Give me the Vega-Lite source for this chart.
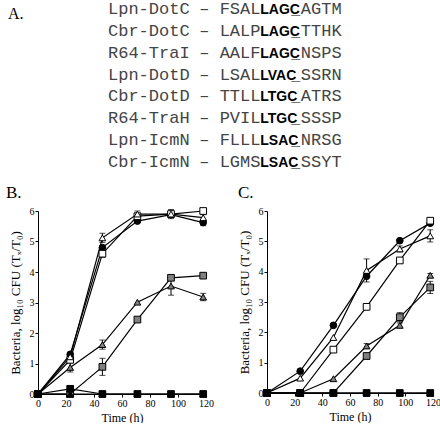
{
  "$schema": "https://vega.github.io/schema/vega-lite/v6.json",
  "padding": {"left": 6, "top": 0, "right": 0, "bottom": 0},
  "spacing": 11,
  "config": {
    "view": {"stroke": null},
    "font": "Liberation Serif",
    "axis": {
      "labelFont": "Liberation Serif", "titleFont": "Liberation Serif",
      "labelFontSize": 10, "titleFontSize": 12, "titleFontWeight": "normal",
      "labelColor": "black", "titleColor": "black", "domainColor": "black", "tickColor": "black",
      "tickSize": 3, "grid": false, "labelPadding": 1, "domainWidth": 1, "tickWidth": 1
    },
    "title": {"font": "Liberation Serif", "fontSize": 17, "fontWeight": "normal", "anchor": "start", "color": "black", "offset": 0}
  },
  "datasets": {
    "align": [
      {"row": 1, "protein": "Lpn-DotC", "pre": "FSAL", "motif": "LAGC", "post": "AGTM"},
      {"row": 2, "protein": "Cbr-DotC", "pre": "LALP", "motif": "LAGC", "post": "TTHK"},
      {"row": 3, "protein": "R64-TraI", "pre": "AALF", "motif": "LAGC", "post": "NSPS"},
      {"row": 4, "protein": "Lpn-DotD", "pre": "LSAL", "motif": "LVAC", "post": "SSRN"},
      {"row": 5, "protein": "Cbr-DotD", "pre": "TTLL", "motif": "LTGC", "post": "ATRS"},
      {"row": 6, "protein": "R64-TraH", "pre": "PVIL", "motif": "LTGC", "post": "SSSP"},
      {"row": 7, "protein": "Lpn-IcmN", "pre": "FLLL", "motif": "LSAC", "post": "NRSG"},
      {"row": 8, "protein": "Cbr-IcmN", "pre": "LGMS", "motif": "LSAC", "post": "SSYT"}
    ],
    "growth": [
      {"panel": "B", "series": "s1", "t": 0, "v": 0, "e": 0},
      {"panel": "B", "series": "s1", "t": 23, "v": 1.3, "e": 0},
      {"panel": "B", "series": "s1", "t": 46, "v": 4.8, "e": 0},
      {"panel": "B", "series": "s1", "t": 71, "v": 5.67, "e": 0},
      {"panel": "B", "series": "s1", "t": 95, "v": 5.88, "e": 0},
      {"panel": "B", "series": "s1", "t": 118, "v": 5.62, "e": 0.1},
      {"panel": "B", "series": "s2", "t": 0, "v": 0, "e": 0},
      {"panel": "B", "series": "s2", "t": 23, "v": 1.12, "e": 0},
      {"panel": "B", "series": "s2", "t": 46, "v": 4.6, "e": 0.12},
      {"panel": "B", "series": "s2", "t": 71, "v": 5.83, "e": 0},
      {"panel": "B", "series": "s2", "t": 95, "v": 5.9, "e": 0},
      {"panel": "B", "series": "s2", "t": 118, "v": 6.0, "e": 0.08},
      {"panel": "B", "series": "s3", "t": 0, "v": 0, "e": 0},
      {"panel": "B", "series": "s3", "t": 23, "v": 1.22, "e": 0},
      {"panel": "B", "series": "s3", "t": 46, "v": 5.12, "e": 0.15},
      {"panel": "B", "series": "s3", "t": 71, "v": 5.9, "e": 0.1},
      {"panel": "B", "series": "s3", "t": 95, "v": 5.9, "e": 0.15},
      {"panel": "B", "series": "s3", "t": 118, "v": 5.78, "e": 0.1},
      {"panel": "B", "series": "s4", "t": 0, "v": 0, "e": 0},
      {"panel": "B", "series": "s4", "t": 23, "v": 0.87, "e": 0.15},
      {"panel": "B", "series": "s4", "t": 46, "v": 1.62, "e": 0.15},
      {"panel": "B", "series": "s4", "t": 71, "v": 3.01, "e": 0},
      {"panel": "B", "series": "s4", "t": 95, "v": 3.54, "e": 0.3},
      {"panel": "B", "series": "s4", "t": 118, "v": 3.18, "e": 0.12},
      {"panel": "B", "series": "s5", "t": 0, "v": 0, "e": 0},
      {"panel": "B", "series": "s5", "t": 23, "v": 0, "e": 0},
      {"panel": "B", "series": "s5", "t": 46, "v": 0.89, "e": 0.28},
      {"panel": "B", "series": "s5", "t": 71, "v": 2.44, "e": 0},
      {"panel": "B", "series": "s5", "t": 95, "v": 3.81, "e": 0},
      {"panel": "B", "series": "s5", "t": 118, "v": 3.88, "e": 0.08},
      {"panel": "B", "series": "s6", "t": 0, "v": 0, "e": 0},
      {"panel": "B", "series": "s6", "t": 23, "v": 0.17, "e": 0},
      {"panel": "B", "series": "s6", "t": 46, "v": 0, "e": 0},
      {"panel": "B", "series": "s6", "t": 71, "v": 0, "e": 0},
      {"panel": "B", "series": "s6", "t": 95, "v": 0, "e": 0},
      {"panel": "B", "series": "s6", "t": 118, "v": 0, "e": 0},
      {"panel": "B", "series": "s7", "t": 0, "v": 0, "e": 0},
      {"panel": "B", "series": "s7", "t": 23, "v": 0, "e": 0},
      {"panel": "B", "series": "s7", "t": 46, "v": 0, "e": 0},
      {"panel": "B", "series": "s7", "t": 71, "v": 0, "e": 0},
      {"panel": "B", "series": "s7", "t": 95, "v": 0, "e": 0},
      {"panel": "B", "series": "s7", "t": 118, "v": 0, "e": 0},
      {"panel": "C", "series": "s1", "t": 0, "v": 0, "e": 0},
      {"panel": "C", "series": "s1", "t": 24, "v": 0.72, "e": 0},
      {"panel": "C", "series": "s1", "t": 48, "v": 2.23, "e": 0},
      {"panel": "C", "series": "s1", "t": 72, "v": 3.85, "e": 0},
      {"panel": "C", "series": "s1", "t": 96, "v": 5.02, "e": 0},
      {"panel": "C", "series": "s1", "t": 118, "v": 5.6, "e": 0},
      {"panel": "C", "series": "s2", "t": 0, "v": 0, "e": 0},
      {"panel": "C", "series": "s2", "t": 24, "v": 0, "e": 0},
      {"panel": "C", "series": "s2", "t": 48, "v": 1.43, "e": 0.08},
      {"panel": "C", "series": "s2", "t": 72, "v": 2.84, "e": 0},
      {"panel": "C", "series": "s2", "t": 96, "v": 4.37, "e": 0},
      {"panel": "C", "series": "s2", "t": 118, "v": 5.68, "e": 0.08},
      {"panel": "C", "series": "s3", "t": 0, "v": 0, "e": 0},
      {"panel": "C", "series": "s3", "t": 24, "v": 0.49, "e": 0},
      {"panel": "C", "series": "s3", "t": 48, "v": 1.83, "e": 0},
      {"panel": "C", "series": "s3", "t": 72, "v": 4.04, "e": 0.38},
      {"panel": "C", "series": "s3", "t": 96, "v": 4.75, "e": 0.1},
      {"panel": "C", "series": "s3", "t": 118, "v": 5.18, "e": 0.2},
      {"panel": "C", "series": "s4", "t": 0, "v": 0, "e": 0},
      {"panel": "C", "series": "s4", "t": 24, "v": 0, "e": 0},
      {"panel": "C", "series": "s4", "t": 48, "v": 0.47, "e": 0},
      {"panel": "C", "series": "s4", "t": 72, "v": 1.55, "e": 0.08},
      {"panel": "C", "series": "s4", "t": 96, "v": 2.23, "e": 0.08},
      {"panel": "C", "series": "s4", "t": 118, "v": 3.88, "e": 0.06},
      {"panel": "C", "series": "s5", "t": 0, "v": 0, "e": 0},
      {"panel": "C", "series": "s5", "t": 24, "v": 0, "e": 0},
      {"panel": "C", "series": "s5", "t": 48, "v": 0, "e": 0},
      {"panel": "C", "series": "s5", "t": 72, "v": 1.22, "e": 0},
      {"panel": "C", "series": "s5", "t": 96, "v": 2.5, "e": 0.15},
      {"panel": "C", "series": "s5", "t": 118, "v": 3.48, "e": 0.2},
      {"panel": "C", "series": "s6", "t": 0, "v": 0, "e": 0},
      {"panel": "C", "series": "s6", "t": 24, "v": 0, "e": 0},
      {"panel": "C", "series": "s6", "t": 48, "v": 0, "e": 0},
      {"panel": "C", "series": "s6", "t": 72, "v": 0, "e": 0},
      {"panel": "C", "series": "s6", "t": 96, "v": 0, "e": 0},
      {"panel": "C", "series": "s6", "t": 118, "v": 0, "e": 0},
      {"panel": "C", "series": "s7", "t": 0, "v": 0, "e": 0},
      {"panel": "C", "series": "s7", "t": 24, "v": 0, "e": 0},
      {"panel": "C", "series": "s7", "t": 48, "v": 0, "e": 0},
      {"panel": "C", "series": "s7", "t": 72, "v": 0, "e": 0},
      {"panel": "C", "series": "s7", "t": 96, "v": 0, "e": 0},
      {"panel": "C", "series": "s7", "t": 118, "v": 0, "e": 0}
    ]
  },
  "vconcat": [
    {
      "width": 403,
      "height": 170,
      "layer": [
        {
          "data": {"name": "align"},
          "mark": {"type": "text", "font": "Liberation Mono", "fontSize": 17, "align": "left", "baseline": "alphabetic", "color": "#444"},
          "encoding": {
            "x": {"datum": 0, "type": "quantitative", "scale": {"domain": [-6.897, 32.81], "nice": false, "zero": false}, "axis": null},
            "y": {"field": "row", "type": "quantitative", "scale": {"domain": [0.451, 8.228], "reverse": true, "nice": false, "zero": false}, "axis": null},
            "text": {"field": "protein"}
          }
        },
        {
          "data": {"name": "align"},
          "mark": {"type": "text", "font": "Liberation Mono", "fontSize": 17, "align": "left", "baseline": "alphabetic", "color": "#444"},
          "encoding": {
            "x": {"datum": 9, "type": "quantitative"},
            "y": {"field": "row", "type": "quantitative"},
            "text": {"value": "–"}
          }
        },
        {
          "data": {"name": "align"},
          "mark": {"type": "text", "font": "Liberation Mono", "fontSize": 17, "align": "left", "baseline": "alphabetic", "color": "#444"},
          "encoding": {
            "x": {"datum": 11, "type": "quantitative"},
            "y": {"field": "row", "type": "quantitative"},
            "text": {"field": "pre"}
          }
        },
        {
          "data": {"name": "align"},
          "mark": {"type": "text", "font": "Liberation Sans", "fontSize": 14, "fontWeight": "bold", "align": "left", "baseline": "alphabetic", "color": "black"},
          "encoding": {
            "x": {"datum": 15, "type": "quantitative"},
            "y": {"field": "row", "type": "quantitative"},
            "text": {"field": "motif"}
          }
        },
        {
          "data": {"name": "align"},
          "mark": {"type": "text", "font": "Liberation Sans", "fontSize": 16, "fontWeight": "bold", "align": "center", "baseline": "alphabetic", "color": "black"},
          "encoding": {
            "x": {"datum": 18.5, "type": "quantitative"},
            "y": {"field": "row", "type": "quantitative"},
            "text": {"value": "_"}
          }
        },
        {
          "data": {"name": "align"},
          "mark": {"type": "text", "font": "Liberation Mono", "fontSize": 17, "align": "left", "baseline": "alphabetic", "color": "#444"},
          "encoding": {
            "x": {"datum": 19, "type": "quantitative"},
            "y": {"field": "row", "type": "quantitative"},
            "text": {"field": "post"}
          }
        },
        {
          "data": {"values": [{"label": "A."}]},
          "mark": {"type": "text", "font": "Liberation Serif", "fontSize": 16, "align": "left", "baseline": "alphabetic", "color": "black"},
          "encoding": {
            "x": {"datum": -9.85, "type": "quantitative"},
            "y": {"datum": 1.215, "type": "quantitative"},
            "text": {"field": "label"}
          }
        }
      ]
    },
    {
      "hconcat": [
        {
          "width": 168,
          "height": 183,
          "title": {"text": "B.", "dx": -3},
          "data": {"name": "growth"},
          "transform": [{"filter": "datum.panel === 'B'"}],
          "encoding": {
            "x": {"field": "t", "type": "quantitative", "scale": {"domain": [0, 120], "nice": false}, "axis": {"title": "Time (h)", "values": [0, 20, 40, 60, 80, 100, 120], "labelFlush": false, "titlePadding": 4}},
            "y": {"field": "v", "type": "quantitative", "scale": {"domain": [0, 6], "nice": false}, "axis": {"title": "Bacteria, log₁₀ CFU (Tₓ/T₀)", "titleFontSize": 13, "values": [0, 1, 2, 3, 4, 5, 6], "titlePadding": 7}}
          },
          "layer": [
            {"mark": {"type": "line", "color": "black", "strokeWidth": 1.2}, "encoding": {"detail": {"field": "series"}}},
            {"transform": [{"filter": "datum.e > 0"}], "mark": {"type": "errorbar", "ticks": {"size": 6}, "color": "black", "thickness": 1}, "encoding": {"yError": {"field": "e"}}},
            {
              "mark": {"type": "point", "size": 45, "stroke": "black", "strokeWidth": 1, "opacity": 1, "fillOpacity": 1},
              "encoding": {
                "shape": {"field": "series", "scale": {"domain": ["s1", "s2", "s3", "s4", "s5", "s6", "s7"], "range": ["circle", "square", "triangle-up", "triangle-up", "square", "square", "triangle-up"]}, "legend": null},
                "fill": {"field": "series", "scale": {"domain": ["s1", "s2", "s3", "s4", "s5", "s6", "s7"], "range": ["black", "white", "white", "#808080", "#808080", "black", "black"]}, "legend": null}
              }
            }
          ]
        },
        {
          "width": 166,
          "height": 182,
          "title": {"text": "C."},
          "data": {"name": "growth"},
          "transform": [{"filter": "datum.panel === 'C'"}],
          "encoding": {
            "x": {"field": "t", "type": "quantitative", "scale": {"domain": [0, 120], "nice": false}, "axis": {"title": "Time (h)", "values": [0, 20, 40, 60, 80, 100, 120], "labelFlush": false, "titlePadding": 4}},
            "y": {"field": "v", "type": "quantitative", "scale": {"domain": [0, 6], "nice": false}, "axis": {"title": "Bacteria, log₁₀ CFU (Tₓ/T₀)", "titleFontSize": 13, "values": [0, 1, 2, 3, 4, 5, 6], "titlePadding": 7}}
          },
          "layer": [
            {"mark": {"type": "line", "color": "black", "strokeWidth": 1.2}, "encoding": {"detail": {"field": "series"}}},
            {"transform": [{"filter": "datum.e > 0"}], "mark": {"type": "errorbar", "ticks": {"size": 6}, "color": "black", "thickness": 1}, "encoding": {"yError": {"field": "e"}}},
            {
              "mark": {"type": "point", "size": 45, "stroke": "black", "strokeWidth": 1, "opacity": 1, "fillOpacity": 1},
              "encoding": {
                "shape": {"field": "series", "scale": {"domain": ["s1", "s2", "s3", "s4", "s5", "s6", "s7"], "range": ["circle", "square", "triangle-up", "triangle-up", "square", "square", "triangle-up"]}, "legend": null},
                "fill": {"field": "series", "scale": {"domain": ["s1", "s2", "s3", "s4", "s5", "s6", "s7"], "range": ["black", "white", "white", "#808080", "#808080", "black", "black"]}, "legend": null}
              }
            }
          ]
        }
      ],
      "spacing": 24
    }
  ]
}
